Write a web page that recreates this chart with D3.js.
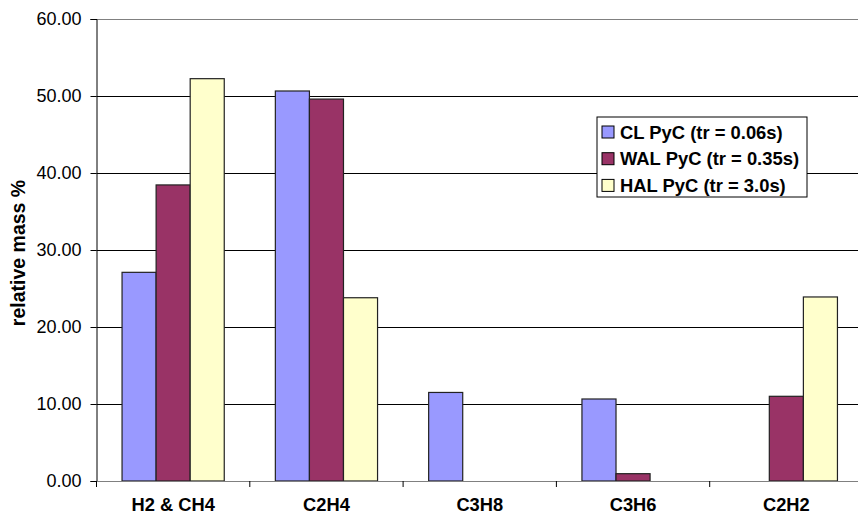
<!DOCTYPE html>
<html>
<head>
<meta charset="utf-8">
<script src="https://cdn.jsdelivr.net/npm/d3@7"></script>
<style>
  body { margin: 0; background: #fff; }
  text { font-family: "Liberation Sans", Arial, sans-serif; }
</style>
</head>
<body>
<div id="chart"></div>
<script>
var categories = ["H2 & CH4", "C2H4", "C3H8", "C3H6", "C2H2"];
var seriesNames = ["CL PyC (tr = 0.06s)", "WAL PyC (tr = 0.35s)", "HAL PyC (tr = 3.0s)"];
var clValues = [27.1, 50.65, 11.5, 10.65, 0];
var walValues = [38.45, 49.6, 0, 0.95, 11.0];
var halValues = [52.25, 23.8, 0, 0, 23.9];
var yTicks = [0, 10, 20, 30, 40, 50, 60];
var colors = ["#9999FF", "#993366", "#FFFFCC"];

var allValues = [clValues, walValues, halValues];

var width = 858, height = 516;
var margin = { top: 19, right: -5, bottom: 35, left: 96.5 };

var svg = d3.select("#chart")
    .append("svg")
    .attr("width", width)
    .attr("height", height);

var x0 = d3.scaleBand()
    .domain(categories)
    .range([margin.left, width - margin.right])
    .padding(0);

var x1 = d3.scaleBand()
    .domain(seriesNames)
    .range([0, x0.bandwidth()])
    .paddingInner(0)
    .paddingOuter(0.75);

var y = d3.scaleLinear()
    .domain([0, 60])
    .range([height - margin.bottom, margin.top]);

// gridlines
svg.append("g")
    .selectAll("line")
    .data(yTicks.slice(1))
    .enter()
    .append("line")
    .attr("x1", margin.left)
    .attr("x2", width)
    .attr("y1", function (d) { return Math.round(y(d)) + 0.5; })
    .attr("y2", function (d) { return Math.round(y(d)) + 0.5; })
    .attr("stroke", function (d) { return d == 60 ? "#808080" : "#000"; })
    .attr("stroke-width", 1);

// bars
var rows = categories.map(function (c, i) {
    return { cat: c, vals: allValues.map(function (s, j) { return { name: seriesNames[j], v: s[i], j: j }; }) };
});

var groups = svg.selectAll(".grp")
    .data(rows)
    .enter()
    .append("g")
    .attr("transform", function (d) { return "translate(" + x0(d.cat) + ",0)"; });

groups.selectAll("rect")
    .data(function (d) { return d.vals.filter(function (e) { return e.v > 0; }); })
    .enter()
    .append("rect")
    .attr("x", function (d) { return x1(d.name); })
    .attr("y", function (d) { return y(d.v); })
    .attr("width", x1.bandwidth())
    .attr("height", function (d) { return y(0) - y(d.v); })
    .attr("fill", function (d) { return colors[d.j]; })
    .attr("stroke", "#222")
    .attr("stroke-width", 1.2);

// y axis
var yAxis = svg.append("g")
    .attr("transform", "translate(" + margin.left + ",0)")
    .call(d3.axisLeft(y).tickValues(yTicks).tickFormat(d3.format(".2f")).tickSize(6).tickPadding(9));
yAxis.select(".domain").attr("stroke", "#000");
yAxis.selectAll("text").style("font-size", "18px").attr("fill", "#000");

// x axis
var xAxis = svg.append("g")
    .attr("transform", "translate(0," + y(0) + ")")
    .call(d3.axisBottom(x0).tickSize(0).tickPadding(17));
xAxis.select(".domain").attr("stroke", "#808080");
xAxis.selectAll("text").style("font-size", "18.3px").style("font-weight", "bold").attr("fill", "#000");

svg.append("g")
    .selectAll("line")
    .data(categories)
    .enter()
    .append("line")
    .attr("x1", function (d) { return x0(d); })
    .attr("x2", function (d) { return x0(d); })
    .attr("y1", y(0))
    .attr("y2", y(0) + 6)
    .attr("stroke", "#000");

// y title
svg.append("text")
    .attr("transform", "translate(24.5," + 253 + ") rotate(-90)")
    .attr("text-anchor", "middle")
    .style("font-size", "19.5px")
    .style("font-weight", "bold")
    .text("relative mass %");

// legend
var legend = svg.append("g").attr("transform", "translate(597,117)");
legend.append("rect")
    .attr("width", 210)
    .attr("height", 80)
    .attr("fill", "#fff")
    .attr("stroke", "#000");

var items = legend.selectAll(".item")
    .data(seriesNames)
    .enter()
    .append("g")
    .attr("transform", function (d, i) { return "translate(5," + (15 + i * 26.7) + ")"; });

items.append("rect")
    .attr("x", 0)
    .attr("y", -6)
    .attr("width", 12)
    .attr("height", 12)
    .attr("fill", function (d, i) { return colors[i]; })
    .attr("stroke", "#000");

items.append("text")
    .attr("x", 18)
    .attr("dy", "0.36em")
    .style("font-size", "18.4px")
    .style("font-weight", "bold")
    .text(function (d) { return d; });
</script>
</body>
</html>
